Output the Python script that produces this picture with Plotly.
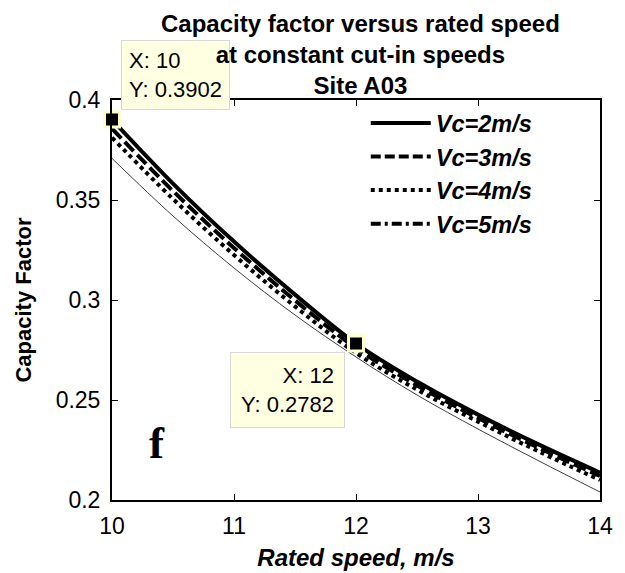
import plotly.graph_objects as go

rated_speed = [10, 10.5, 11, 11.5, 12, 12.5, 13, 13.5, 14]
cf_vc2 = [0.3902, 0.3582, 0.3292, 0.3027, 0.2782, 0.2592, 0.2427, 0.2277, 0.2137]
cf_vc3 = [0.3857, 0.3545, 0.3260, 0.2998, 0.2760, 0.2573, 0.2410, 0.2260, 0.2120]
cf_vc4 = [0.3812, 0.3505, 0.3225, 0.2968, 0.2735, 0.2552, 0.2392, 0.2242, 0.2100]
cf_vc5 = [0.3708, 0.3420, 0.3160, 0.2925, 0.2715, 0.2525, 0.2355, 0.2195, 0.2040]

tip_x = [10, 12]
tip_y = [0.3902, 0.2782]

x_ticks = [10, 11, 12, 13, 14]
y_ticks = [0.2, 0.25, 0.3, 0.35, 0.4]
y_tick_text = ["0.2", "0.25", "0.3", "0.35", "0.4"]

FONT = "Arial, Liberation Sans, Helvetica"

fig = go.Figure()

fig.add_trace(go.Scatter(x=rated_speed, y=cf_vc5, mode="lines", line=dict(color="#404040", width=1, shape="spline"),
                         showlegend=False, hoverinfo="skip"))
fig.add_trace(go.Scatter(x=rated_speed, y=cf_vc4, mode="lines", name="Vc=4m/s",
                         line=dict(color="black", width=4, dash="4px,4px", shape="spline"), showlegend=False))
fig.add_trace(go.Scatter(x=rated_speed, y=cf_vc3, mode="lines", name="Vc=3m/s",
                         line=dict(color="black", width=4, dash="13px,5px", shape="spline"), showlegend=False))
fig.add_trace(go.Scatter(x=rated_speed, y=cf_vc2, mode="lines", name="Vc=2m/s",
                         line=dict(color="black", width=4, shape="spline"), showlegend=False))

# legend entries
fig.add_trace(go.Scatter(x=[None], y=[None], mode="lines", name="<b><i>Vc=2m/s</i></b>",
                         line=dict(color="black", width=4)))
fig.add_trace(go.Scatter(x=[None], y=[None], mode="lines", name="<b><i>Vc=3m/s</i></b>",
                         line=dict(color="black", width=4, dash="10px,4px")))
fig.add_trace(go.Scatter(x=[None], y=[None], mode="lines", name="<b><i>Vc=4m/s</i></b>",
                         line=dict(color="black", width=4, dash="4px,4px")))
fig.add_trace(go.Scatter(x=[None], y=[None], mode="lines", name="<b><i>Vc=5m/s</i></b>",
                         line=dict(color="black", width=4, dash="10px,4px,3px,4px")))

# data tip markers
fig.add_trace(go.Scatter(x=tip_x, y=tip_y, mode="markers", showlegend=False, cliponaxis=False,
                         marker=dict(symbol="square", size=15, color="black",
                                     line=dict(color="#FFFFCC", width=3))))

fig.add_annotation(x=10.07, y=1.15, xref="x", yref="paper", xanchor="left", yanchor="top",
                   text="X: 10<br>Y: 0.3902", align="left", showarrow=False,
                   font=dict(family=FONT, size=22, color="black"),
                   bgcolor="#FFFFE1", bordercolor="#D8D8D8", borderwidth=1, borderpad=7)
fig.add_annotation(x=11.91, y=0.2740, xref="x", yref="y", xanchor="right", yanchor="top",
                   text="X: 12<br>Y: 0.2782", align="right", showarrow=False,
                   font=dict(family=FONT, size=22, color="black"),
                   bgcolor="#FFFFE1", bordercolor="#D8D8D8", borderwidth=1, borderpad=10)
fig.add_annotation(x=10.37, y=0.2285, xref="x", yref="y", text="<b>f</b>", showarrow=False,
                   font=dict(family="Times New Roman, Liberation Serif", size=45, color="black"))

# title (drawn over the first data tip box, as in the reference)
fig.add_annotation(x=0.51, y=1.0, xref="paper", yref="paper", xanchor="center", yanchor="bottom",
                   text="<b>Capacity factor versus rated speed<br>at constant cut-in speeds<br>Site A03</b>",
                   showarrow=False, borderpad=0, font=dict(family=FONT, size=24, color="black"))

axis_common = dict(showline=True, linecolor="black", linewidth=2, mirror="ticks", ticks="inside",
                   ticklen=6, tickcolor="black", tickwidth=1, showgrid=False, zeroline=False,
                   tickfont=dict(family=FONT, size=23, color="black"))

fig.update_layout(
    width=625, height=573,
    margin=dict(l=112, r=25, t=100, b=73),
    paper_bgcolor="white", plot_bgcolor="white",
    xaxis=dict(range=[10, 14], tickvals=x_ticks, automargin=False, ticklabelstandoff=4,
               title=dict(text="<b><i>Rated speed, m/s</i></b>", standoff=12,
                          font=dict(family=FONT, size=24, color="black")),
               **axis_common),
    yaxis=dict(range=[0.2, 0.4], tickvals=y_ticks, ticktext=y_tick_text, ticklabelstandoff=5,
               automargin=False,
               title=dict(text="<b>Capacity Factor</b>", standoff=18,
                          font=dict(family=FONT, size=22, color="black")),
               **axis_common),
    legend=dict(x=0.52, y=0.997, xanchor="left", yanchor="top", bgcolor="rgba(0,0,0,0)",
                font=dict(family=FONT, size=23.5, color="black"),
                itemwidth=60, tracegroupgap=0),
)

fig.write_html("out.html")
